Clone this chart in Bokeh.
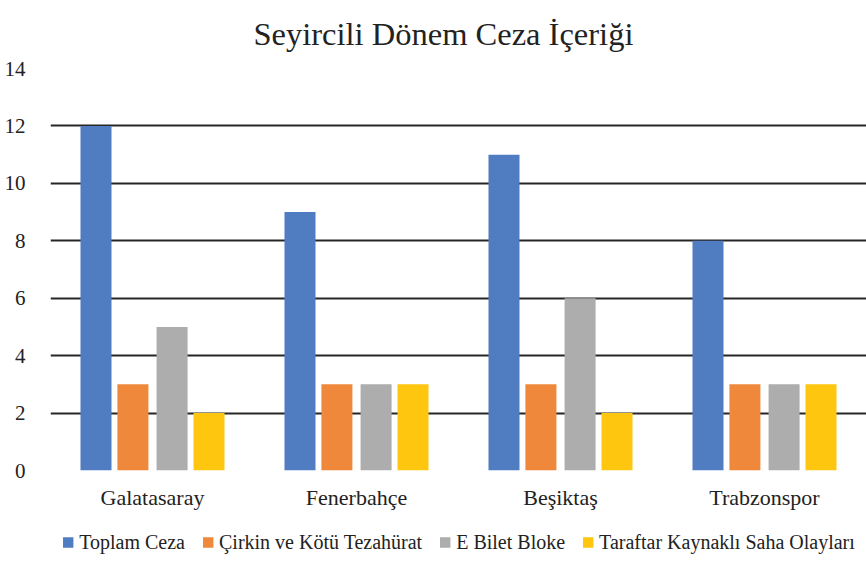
from bokeh.plotting import figure
from bokeh.layouts import column
from bokeh.models import ColumnDataSource, Legend, LegendItem, FactorRange, Range1d, FixedTicker
from bokeh.transform import dodge
from bokeh.embed import file_html
from bokeh.resources import INLINE

teams = ["Galatasaray", "Fenerbahçe", "Beşiktaş", "Trabzonspor"]
series_names = ["Toplam Ceza", "Çirkin ve Kötü Tezahürat", "E Bilet Bloke", "Taraftar Kaynaklı Saha Olayları"]
toplam = [12, 9, 11, 8]
cirkin = [3, 3, 3, 3]
ebilet = [5, 3, 6, 3]
taraftar = [2, 3, 2, 3]
colors = ["#507CC2", "#EF883B", "#ACADAC", "#FEC60F"]
y_ticks = [0, 2, 4, 6, 8, 10, 12, 14]

FONT = "Liberation Serif"

source = ColumnDataSource(dict(team=teams, s0=toplam, s1=cirkin, s2=ebilet, s3=taraftar))
offsets = [-0.277, -0.096, 0.096, 0.277]

p = figure(x_range=FactorRange(*teams, range_padding=0), y_range=Range1d(0, 14),
           width=866, height=520, output_backend="svg", toolbar_location=None,
           title="Seyircili Dönem Ceza İçeriği",
           min_border_left=50, min_border_right=0, min_border_top=68, min_border_bottom=50)

p.title.align = "left"
p.title.offset = 203
p.title.vertical_align = "top"
p.title.text_font = FONT
p.title.text_font_size = "32.5px"
p.title.text_line_height = 1.0
p.title.text_font_style = "normal"
p.title.text_color = "#222222"
p.title.standoff = 30

renderers = []
for i, col in enumerate(["s0", "s1", "s2", "s3"]):
    r = p.vbar(x=dodge("team", offsets[i], range=p.x_range), top=col, width=0.152,
               source=source, fill_color=colors[i], line_color=None)
    renderers.append(r)

p.outline_line_color = None
p.xgrid.grid_line_color = None
p.ygrid.grid_line_color = "#262626"
p.ygrid.grid_line_width = 2
p.yaxis.ticker = FixedTicker(ticks=y_ticks)
p.yaxis.axis_line_color = None
p.yaxis.major_tick_line_color = None
p.yaxis.minor_tick_line_color = None
p.yaxis.major_label_text_font = FONT
p.yaxis.major_label_text_font_size = "21px"
p.yaxis.major_label_text_color = "#222222"
p.yaxis.major_label_standoff = 19

p.xaxis.axis_line_color = None
p.xaxis.major_tick_line_color = None
p.xaxis.minor_tick_line_color = None
p.xaxis.major_tick_out = 0
p.xaxis.major_tick_in = 0
p.xaxis.major_label_text_font = FONT
p.xaxis.major_label_text_font_size = "22px"
p.xaxis.major_label_text_color = "#222222"
p.xaxis.major_label_standoff = 14

# legend in its own strip below the chart; its bars sit below the visible y range
lf = figure(x_range=FactorRange(*teams, range_padding=0), y_range=Range1d(100, 101),
            width=866, height=44, output_backend="svg", toolbar_location=None,
            x_axis_type=None, y_axis_type=None,
            min_border_left=0, min_border_right=0, min_border_top=0, min_border_bottom=0)
lf.outline_line_color = None
lf.xgrid.visible = False
lf.ygrid.visible = False
lrs = []
for i, col in enumerate(["s0", "s1", "s2", "s3"]):
    lrs.append(lf.vbar(x=dodge("team", offsets[i], range=lf.x_range), top=col, width=0.152,
                       source=source, fill_color=colors[i], line_color=None))

legend = Legend(items=[LegendItem(label=series_names[i], renderers=[lrs[i]]) for i in range(4)],
                orientation="horizontal", location="center")
legend.label_text_font = FONT
legend.label_text_font_size = "20px"
legend.label_text_color = "#222222"
legend.glyph_width = 13
legend.glyph_height = 13
legend.label_standoff = 5
legend.spacing = 16
legend.padding = 0
legend.margin = 0
legend.border_line_color = None
legend.background_fill_alpha = 0
lf.add_layout(legend, "center")

layout = column(p, lf, spacing=0)
open("out.html", "w").write(file_html(layout, INLINE))
